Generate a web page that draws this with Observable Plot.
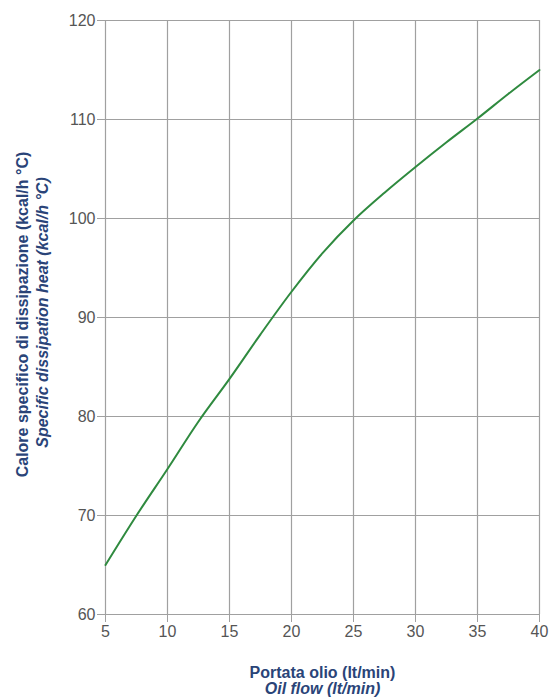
<!DOCTYPE html>
<html>
<head>
<meta charset="utf-8">
<script src="https://cdn.jsdelivr.net/npm/d3@7"></script>
<script src="https://cdn.jsdelivr.net/npm/@observablehq/plot@0.6"></script>
<style>
  html, body { margin: 0; padding: 0; background: #fff; }
  #chart { width: 553px; height: 698px; }
</style>
</head>
<body>
<div id="chart"></div>
<script>
const flow = [5, 7.5, 10, 12.5, 15, 17.5, 20, 22.5, 25, 27.5, 30, 32.5, 35, 37.5, 40];
const heat = [65.0, 70.0, 74.7, 79.5, 83.8, 88.3, 92.6, 96.5, 99.8, 102.6, 105.2, 107.7, 110.1, 112.6, 115.0];
const xTicks = [5, 10, 15, 20, 25, 30, 35, 40];
const yTicks = [60, 70, 80, 90, 100, 110, 120];
const xTitle = ["Portata olio (lt/min)", "Oil flow (lt/min)"];
const yTitle = ["Calore specifico di dissipazione (kcal/h °C)", "Specific dissipation heat (kcal/h °C)"];

const data = flow.map((x, i) => ({x, y: heat[i]}));
const titleColor = "#2a4478";
const font = "'Liberation Sans', Arial, Helvetica, sans-serif";

const chart = Plot.plot({
  width: 553,
  height: 698,
  marginTop: 20,
  marginBottom: 84,
  marginLeft: 105,
  marginRight: 14,
  style: {fontFamily: font, background: "#fff"},
  x: {domain: [5, 40], ticks: xTicks},
  y: {domain: [60, 120], ticks: yTicks},
  marks: [
    Plot.gridX(xTicks, {stroke: "#a0a0a0", strokeOpacity: 1, strokeWidth: 1.2}),
    Plot.gridY(yTicks, {stroke: "#a0a0a0", strokeOpacity: 1, strokeWidth: 1.2}),
    Plot.axisX(xTicks, {tickSize: 8, tickPadding: 3, stroke: "#a0a0a0", fill: "#555", fontSize: 16, label: null}),
    Plot.axisY(yTicks, {tickSize: 8, tickPadding: 2, stroke: "#a0a0a0", fill: "#555", fontSize: 16, label: null}),
    Plot.line(data, {x: "x", y: "y", curve: "catmull-rom", stroke: "#2f8a3f", strokeWidth: 2}),
    Plot.text([xTitle[0]], {frameAnchor: "bottom", dy: 63, text: d => d, fill: titleColor, fontWeight: "bold", fontSize: 16}),
    Plot.text([xTitle[1]], {frameAnchor: "bottom", dy: 79, text: d => d, fill: titleColor, fontWeight: "bold", fontStyle: "italic", fontSize: 16}),
    Plot.text([yTitle[0]], {frameAnchor: "left", textAnchor: "middle", dx: -83, dy: -3, rotate: -90, text: d => d, fill: titleColor, fontWeight: "bold", fontSize: 16}),
    Plot.text([yTitle[1]], {frameAnchor: "left", textAnchor: "middle", dx: -63, dy: -5, rotate: -90, text: d => d, fill: titleColor, fontWeight: "bold", fontStyle: "italic", fontSize: 16})
  ]
});
document.getElementById("chart").appendChild(chart);
</script>
</body>
</html>
